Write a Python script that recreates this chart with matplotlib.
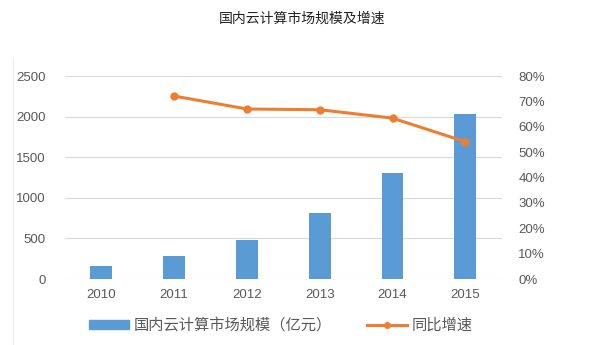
import numpy as np
import matplotlib.pyplot as plt
from matplotlib.lines import Line2D
from matplotlib.patches import Patch

plt.rcParams['font.family'] = ['Noto Sans CJK SC', 'DejaVu Sans']

# 数据
years = ['2010', '2011', '2012', '2013', '2014', '2015']
scale = [160, 283, 480, 812, 1309, 2028]          # 国内云计算市场规模（亿元）
growth_years = ['2011', '2012', '2013', '2014', '2015']
growth = [72.1, 67.0, 66.7, 63.4, 54.1]            # 同比增速 %

blue = '#5b9bd5'
orange = '#ed7d31'
grey = '#595959'
num_font = ['Liberation Sans', 'DejaVu Sans']

fig = plt.figure(figsize=(6.04, 3.45), dpi=100)
ax = fig.add_axes([0.1076, 0.1913, 0.723, 0.5884])
x = np.arange(len(years))
ax.bar(x, scale, width=0.3, color=blue, zorder=3)
ax.set_ylim(0, 2500)
ax.set_yticks(np.arange(0, 2501, 500))
ax.set_xlim(-0.5, len(years) - 0.5)
ax.set_xticks(x)
ax.set_xticklabels(years)
ax.grid(axis='y', color='#d9d9d9', linewidth=0.8, zorder=0)
for s in ax.spines.values():
    s.set_visible(False)
ax.tick_params(length=0, colors=grey, labelsize=9.5)
ax.tick_params(axis='y', pad=14)
ax.tick_params(axis='x', pad=7)
for t in ax.get_xticklabels() + ax.get_yticklabels():
    t.set_family(num_font)

ax2 = ax.twinx()
gx = [years.index(y) for y in growth_years]
ax2.plot(gx, growth, color=orange, linewidth=2.2, marker='o', markersize=5, zorder=4)
ax2.set_ylim(0, 80)
ax2.set_yticks(np.arange(0, 81, 10))
ax2.set_yticklabels(['%d%%' % v for v in range(0, 81, 10)])
for s in ax2.spines.values():
    s.set_visible(False)
ax2.tick_params(length=0, colors=grey, labelsize=9.5, pad=12)
for t in ax2.get_yticklabels():
    t.set_family(num_font)

fig.text(0.5, 0.945, '国内云计算市场规模及增速', ha='center', va='center', fontsize=10, color='#222222')

# 左侧细线
fig.add_artist(Line2D([0.0215, 0.0215], [0.0, 0.83], color='#eeeeee', linewidth=0.8))

handles = [Patch(color=blue),
           Line2D([0], [0], color=orange, linewidth=2.2, marker='o', markersize=4)]
fig.legend(handles, ['国内云计算市场规模（亿元）', '同比增速'], loc='center',
           bbox_to_anchor=(0.465, 0.057), ncol=2, frameon=False, fontsize=11,
           labelcolor=grey, handlelength=2.6, handleheight=0.6, columnspacing=2.3,
           handletextpad=0.3)

plt.savefig('out.png', dpi=100)
